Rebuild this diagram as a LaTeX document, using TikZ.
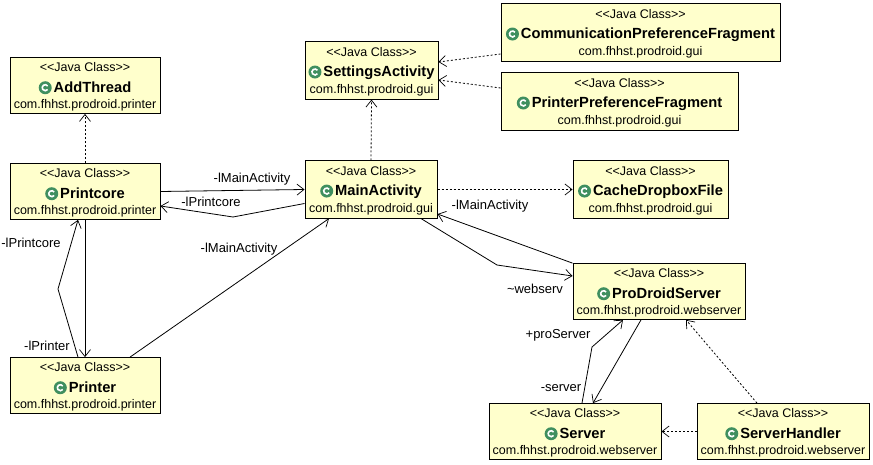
\documentclass[tikz,border=0pt]{standalone}
\usepackage{fontspec}
\setmainfont{Liberation Sans}
\usetikzlibrary{shapes,shapes.multipart,arrows.meta,calc}
\definecolor{classyellow}{HTML}{FFFFCC}
\definecolor{icongreen}{HTML}{3F8F5F}
\newcommand{\classicon}{\tikz[baseline=-4.8pt]{\fill[icongreen] (0,0) circle (6.5pt); \draw[white,line width=1.6pt] (35:3pt) arc (35:325:3pt);}\hspace{2pt}}
\newcommand{\classname}[1]{\classicon{\fontsize{14.7}{16}\selectfont\bfseries #1}}
\begin{document}
\begin{tikzpicture}[x=1pt,y=-1pt]
	\tikzstyle{classbox}=[rectangle split, rectangle split parts=3, rectangle split draw splits=false, rectangle split part align=center, draw=black, line width=1pt, fill=classyellow, inner xsep=0pt, inner ysep=2pt, font=\fontsize{12.5}{14}\selectfont, text height=11.8pt, text depth=4.3pt]
	\tikzstyle{rolelabel}=[font=\fontsize{13}{15}\selectfont, inner sep=0pt]
	\tikzstyle{assoc}=[draw=black, line width=0.8pt, -{Straight Barb[length=7pt,width=11pt,line width=0.7pt]}]
	\tikzstyle{depend}=[draw=black, line width=0.8pt, dash pattern=on 2pt off 2pt, -{Straight Barb[length=7pt,width=11pt,line width=0.7pt,sep=0pt]}]
	\useasboundingbox (0,0) rectangle (873,465);
	% classes
	\node[classbox, minimum width=150pt] (addthread) at (85,85.5) {{<}{<}Java Class{>}{>} \nodepart{two} \classname{AddThread} \nodepart{three} com.fhhst.prodroid.printer};
	\node[classbox, minimum width=150pt] (printcore) at (85,191.5) {{<}{<}Java Class{>}{>} \nodepart{two} \classname{Printcore} \nodepart{three} com.fhhst.prodroid.printer};
	\node[classbox, minimum width=150pt] (printer) at (85,385.5) {{<}{<}Java Class{>}{>} \nodepart{two} \classname{Printer} \nodepart{three} com.fhhst.prodroid.printer};
	\node[classbox, minimum width=133pt] (settings) at (371.5,70.5) {{<}{<}Java Class{>}{>} \nodepart{two} \classname{SettingsActivity} \nodepart{three} com.fhhst.prodroid.gui};
	\node[classbox, minimum width=132pt] (main) at (371,189.5) {{<}{<}Java Class{>}{>} \nodepart{two} \classname{MainActivity} \nodepart{three} com.fhhst.prodroid.gui};
	\node[classbox, minimum width=279pt] (commpref) at (640.5,32.5) {{<}{<}Java Class{>}{>} \nodepart{two} \classname{CommunicationPreferenceFragment} \nodepart{three} com.fhhst.prodroid.gui};
	\node[classbox, minimum width=237pt] (printpref) at (619.5,101.5) {{<}{<}Java Class{>}{>} \nodepart{two} \classname{PrinterPreferenceFragment} \nodepart{three} com.fhhst.prodroid.gui};
	\node[classbox, minimum width=155pt] (cache) at (650.5,189.5) {{<}{<}Java Class{>}{>} \nodepart{two} \classname{CacheDropboxFile} \nodepart{three} com.fhhst.prodroid.gui};
	\node[classbox, minimum width=172pt] (webserver) at (659,291.5) {{<}{<}Java Class{>}{>} \nodepart{two} \classname{ProDroidServer} \nodepart{three} com.fhhst.prodroid.webserver};
	\node[classbox, minimum width=172pt] (server) at (575,431.5) {{<}{<}Java Class{>}{>} \nodepart{two} \classname{Server} \nodepart{three} com.fhhst.prodroid.webserver};
	\node[classbox, minimum width=172pt] (handler) at (783,431.5) {{<}{<}Java Class{>}{>} \nodepart{two} \classname{ServerHandler} \nodepart{three} com.fhhst.prodroid.webserver};
	% bends
	\coordinate (bendcore) at (233,217);
	\coordinate (bendprinter) at (58,289);
	\coordinate (bendweb) at (497,265);
	\coordinate (bendserver) at (592,347);
	% dependencies
	\draw[depend] (printcore.north) -- (addthread.south);
	\draw[depend] (main.north) -- (settings.south);
	\draw[depend] ([yshift=-21.5pt]commpref.west) -- ([yshift=8.5pt]settings.east);
	\draw[depend] ([yshift=13.5pt]printpref.west) -- ([yshift=-9.5pt]settings.east);
	\draw[depend] (main.east) -- (cache.west);
	\draw[depend] ([xshift=-26pt]handler.north) -- ([xshift=27pt]webserver.south);
	\draw[depend] (handler.west) -- (server.east);
	% associations
	\draw[assoc] (printcore.east) -- (main.west);
	\draw[assoc] ([yshift=-14pt]main.west) -- (bendcore) -- ([yshift=-14.5pt]printcore.east);
	\draw[assoc] (printcore.south) -- (printer.north);
	\draw[assoc] ([xshift=-7pt]printer.north) -- (bendprinter) -- ([xshift=-7pt]printcore.south);
	\draw[assoc] ([xshift=45pt]printer.north) -- ([xshift=-42pt]main.south);
	\draw[assoc] ([xshift=50pt]main.south) -- (bendweb) -- ([yshift=15.5pt]webserver.west);
	\draw[assoc] (webserver.north west) -- ([yshift=-24.5pt]main.east);
	\draw[assoc] ([xshift=7pt]server.north) -- (bendserver) -- ([xshift=-36pt]webserver.south);
	\draw[assoc] ([xshift=-18pt]webserver.south) -- ([xshift=18pt]server.north);
	% roles
	\node[rolelabel] (rolemain) at (252,179) {-lMainActivity};
	\node[rolelabel] (rolecore) at (211,201.5) {-lPrintcore};
	\node[rolelabel] (rolemaintwo) at (490,206.5) {-lMainActivity};
	\node[rolelabel] (rolemainthree) at (239,249.5) {-lMainActivity};
	\node[rolelabel] (rolecoretwo) at (31,242.5) {-lPrintcore};
	\node[rolelabel] (roleprinter) at (47,345.5) {-lPrinter};
	\node[rolelabel] (rolewebserv) at (535,288.5) {\textasciitilde webserv};
	\node[rolelabel] (roleproserver) at (558,335.5) {+proServer};
	\node[rolelabel] (roleserver) at (561,388) {-server};
\end{tikzpicture}
\end{document}
